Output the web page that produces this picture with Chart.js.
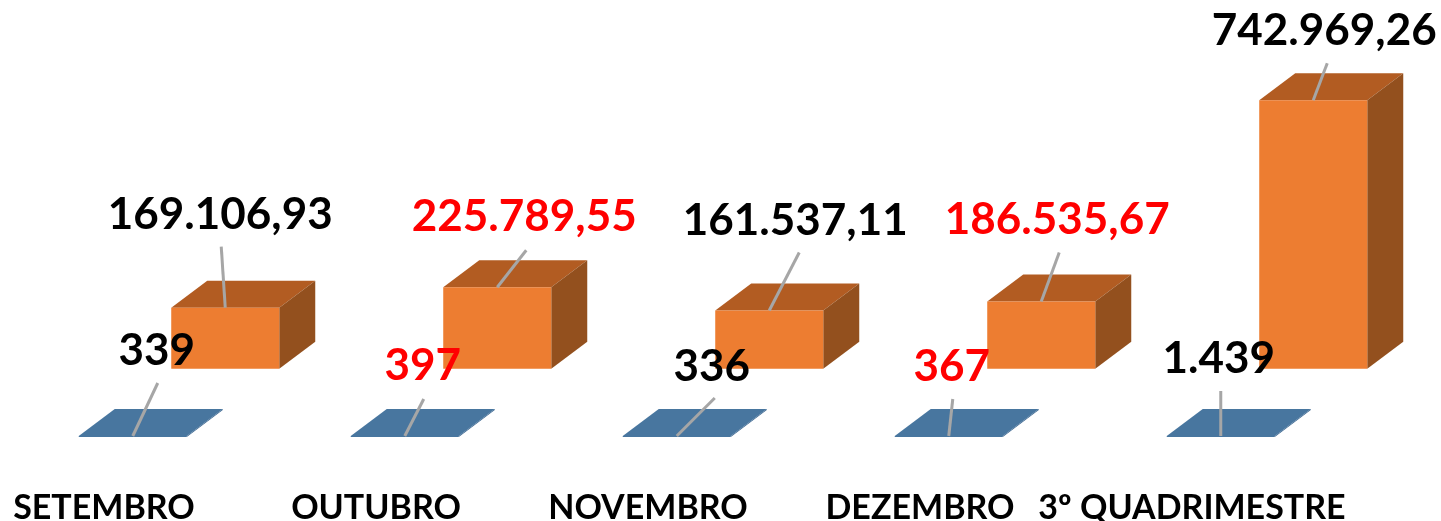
<!DOCTYPE html>
<html><head><meta charset="utf-8">
<style>html,body{margin:0;padding:0;background:#fff}#w{position:relative;width:1441px;height:521px}canvas{display:block;filter:blur(0.6px)}</style>
<script src="https://cdn.jsdelivr.net/npm/chart.js@4"></script>
</head><body><div id="w"><canvas id="c" width="1441" height="521"></canvas></div>
<script>
const categories = ['SETEMBRO','OUTUBRO','NOVEMBRO','DEZEMBRO','3º QUADRIMESTRE'];
const quantidade = [339,397,336,367,1439];
const valor = [169106.93,225789.55,161537.11,186535.67,742969.26];
const labelColors = ['#000000','#ff0000','#000000','#ff0000','#000000'];
const blueLeaders = [[25,-53],[19,-37],[38,-38],[4,-37],[0,-45]];
const blueText = [[24,-85],[18,-70],[35,-69],[3,-69],[-2,-77]];
const orangeLeaders = [[-4,-61],[29,-37],[30,-58],[18,-49],[14,-37]];
const orangeText = [[-5,-93],[27,-70],[26,-90],[16,-82],[11,-69]];
const DX=36, DY=27;
const fmt=(v,d)=>v.toLocaleString('pt-BR',{minimumFractionDigits:d,maximumFractionDigits:d});
const faces={id:'faces',beforeDatasetsDraw(ch){
  const g=ch.ctx;
  ch.data.datasets.forEach((ds,i)=>{
    ch.getDatasetMeta(i).data.forEach(b=>{
      const l=b.x-b.width/2,r=b.x+b.width/2,t=b.y,bt=b.base;
      g.fillStyle=ds.topColor;g.beginPath();g.moveTo(l,t);g.lineTo(l+DX,t-DY);g.lineTo(r+DX,t-DY);g.lineTo(r,t);g.closePath();g.fill();
      g.fillStyle=ds.sideColor;g.beginPath();g.moveTo(r,t);g.lineTo(r+DX,t-DY);g.lineTo(r+DX,bt-DY);g.lineTo(r,bt);g.closePath();g.fill();
    });
  });
},afterDatasetsDraw(ch){
  const g=ch.ctx;
  g.textAlign='center';g.textBaseline='middle';
  ch.data.datasets.forEach((ds,i)=>{
    ch.getDatasetMeta(i).data.forEach((b,k)=>{
      const d=ds.leaders[k],t=ds.texts[k];
      g.strokeStyle='#a6a6a6';g.lineWidth=3;g.beginPath();g.moveTo(b.x,b.y);g.lineTo(b.x+d[0],b.y+d[1]);g.stroke();
      g.fillStyle=labelColors[k];g.font='bold 44px Lato';
      g.fillText(fmt(ds.data[k],ds.decimals),b.x+t[0],b.y+t[1]);
    });
  });
}};
new Chart(document.getElementById('c'),{
  type:'bar',
  data:{labels:categories,datasets:[
    {label:'Quantidade',data:quantidade,yAxisID:'yb',backgroundColor:'#48769f',topColor:'#48769f',sideColor:'#3a6690',leaders:blueLeaders,texts:blueText,decimals:0,minBarLength:1,barPercentage:1.168,categoryPercentage:0.68},
    {label:'Valor',data:valor,yAxisID:'yo',backgroundColor:'#ed7d31',topColor:'#b25c22',sideColor:'#93501e',leaders:orangeLeaders,texts:orangeText,decimals:2,barPercentage:1.168,categoryPercentage:0.68}
  ]},
  options:{responsive:false,animation:false,
    layout:{padding:{left:43,right:38,top:0,bottom:0}},
    plugins:{legend:{display:false},tooltip:{enabled:false}},
    scales:{
      x:{position:'bottom',offset:true,grid:{display:false},border:{display:false},
         afterFit(s){s.height=84;s.paddingLeft=0;s.paddingRight=0},
         ticks:{autoSkip:false,maxRotation:0,minRotation:0,labelOffset:-75,padding:43,color:'#000',font:{family:'Lato',weight:'bold',size:34}}},
      yo:{display:false,min:-188514,max:1020200},
      yb:{display:false,min:0,max:1208714}
    }
  },
  plugins:[faces]
});
</script></body></html>
